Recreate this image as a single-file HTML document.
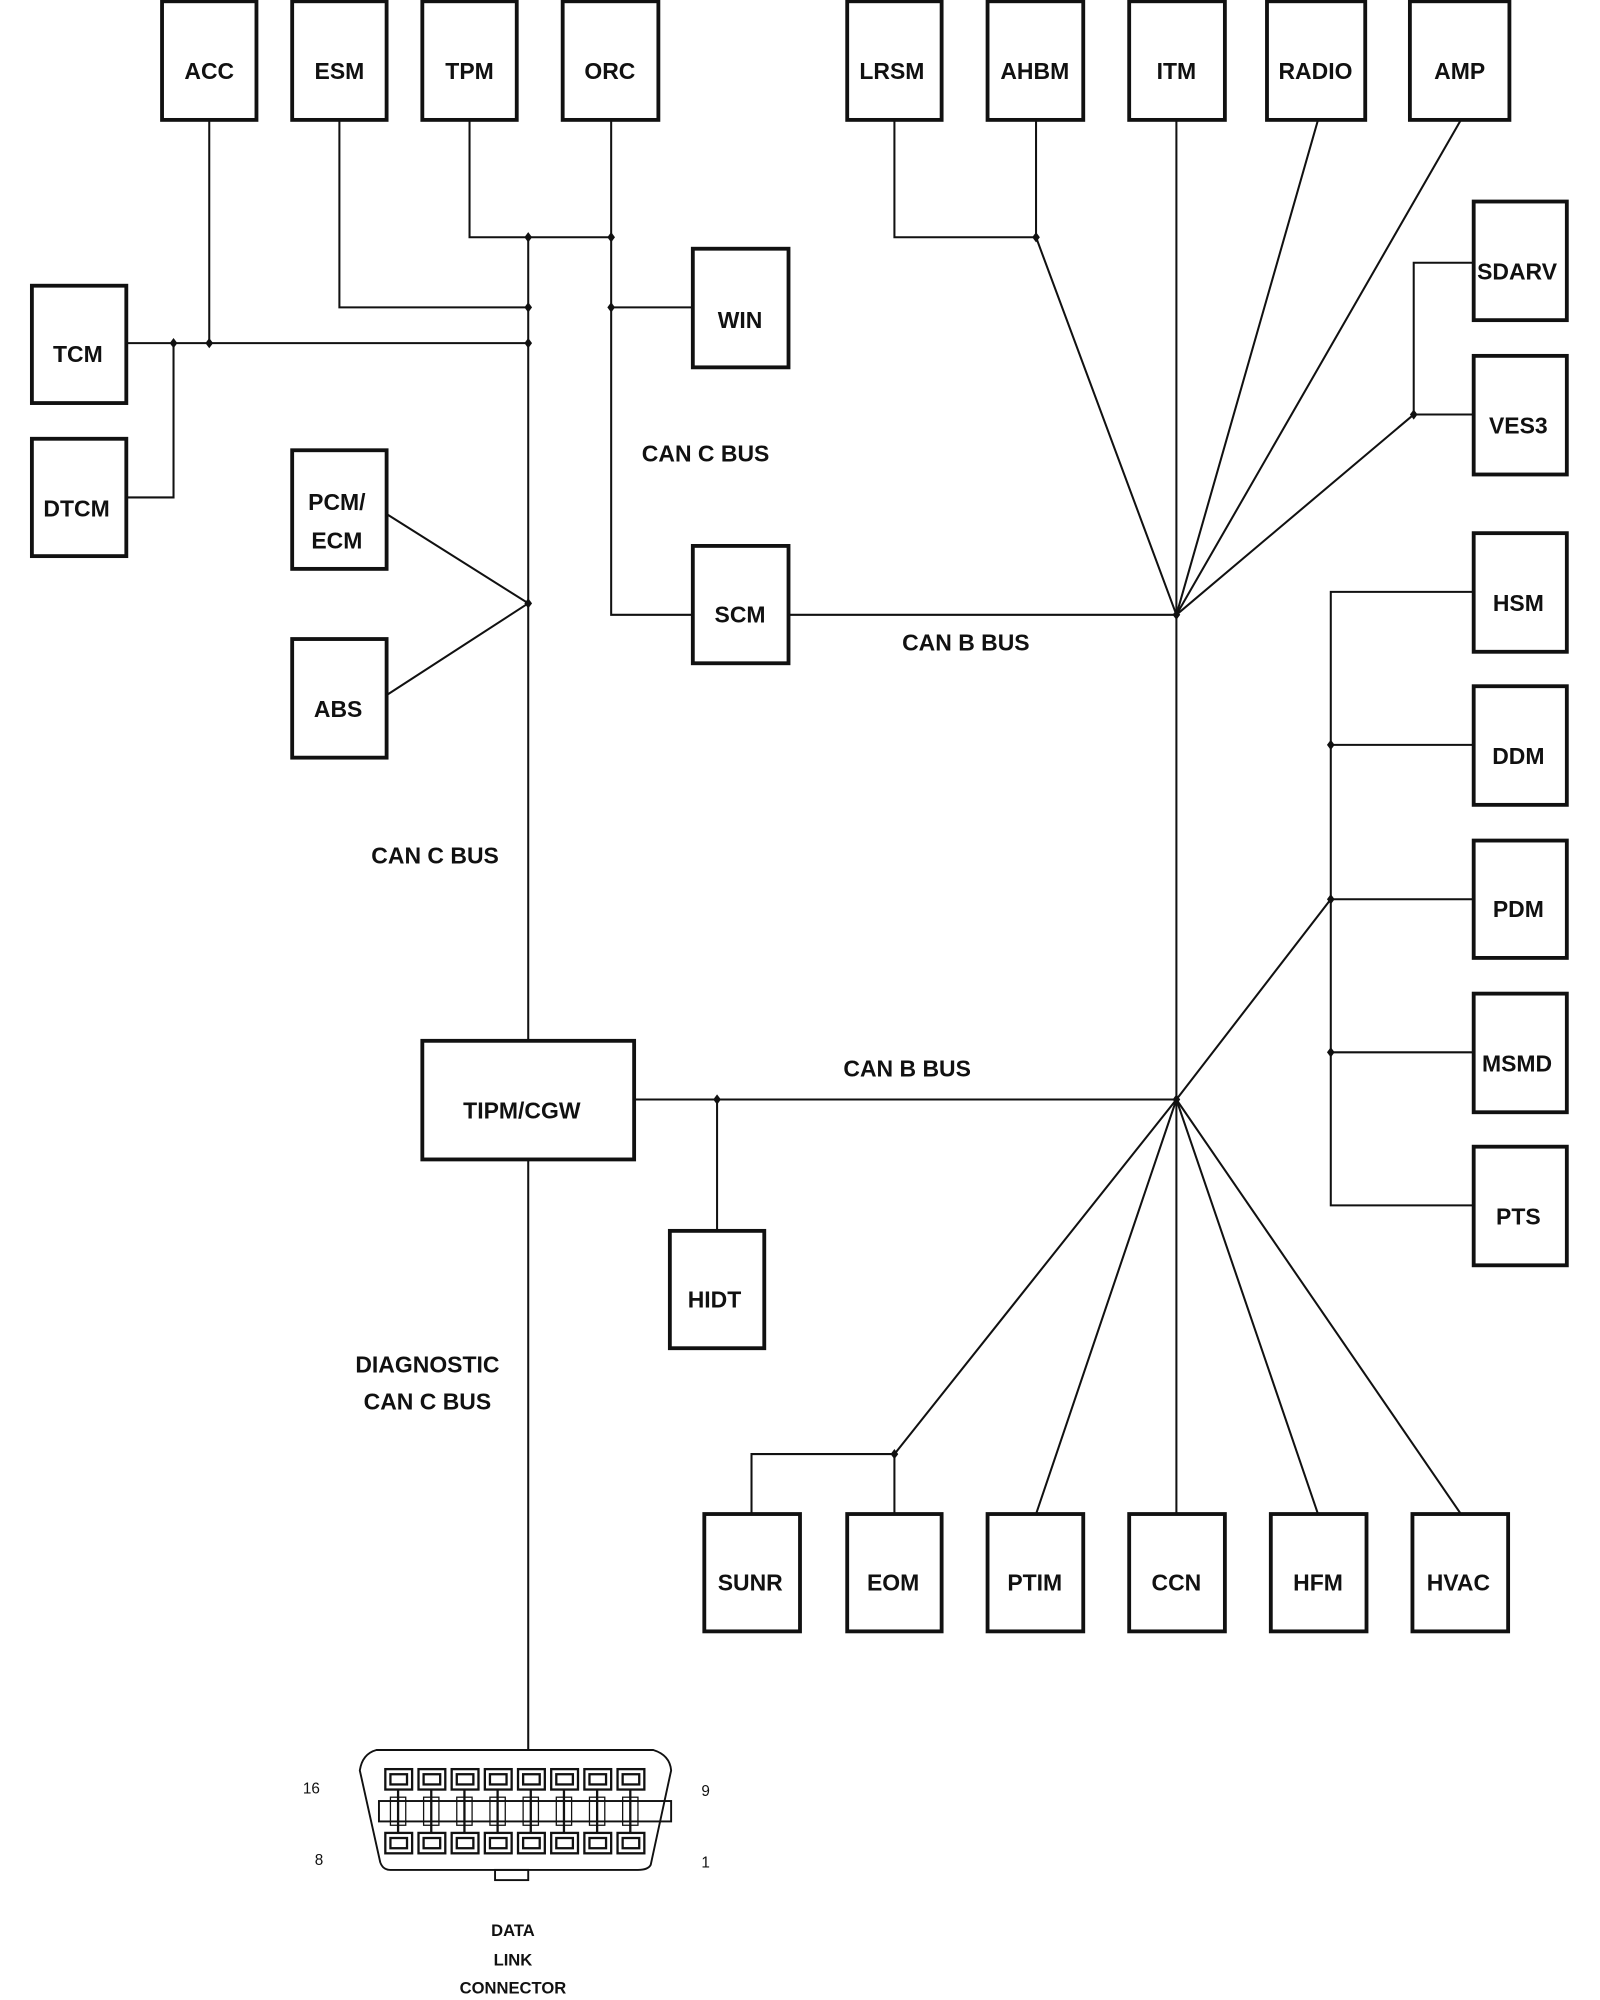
<!DOCTYPE html>
<html><head><meta charset="utf-8"><style>
html,body{margin:0;padding:0;background:#fff;width:1600px;height:2000px;overflow:hidden}
svg{display:block}
text{font-family:"Liberation Sans",Arial,sans-serif;font-weight:bold;fill:#111;text-anchor:middle}
</style></head><body>
<svg width="1600" height="2000" viewBox="0 0 1254 1568" preserveAspectRatio="none" xmlns="http://www.w3.org/2000/svg">
<g fill="none" stroke="#111" stroke-width="1.6">
<polyline points="164,94 164,269"/>
<polyline points="99,269 414,269"/>
<polyline points="99,390 136,390 136,269"/>
<polyline points="266,94 266,241 414,241"/>
<polyline points="368,94 368,186 479,186"/>
<polyline points="479,94 479,482 543,482"/>
<polyline points="479,241 543,241"/>
<polyline points="414,186 414,816"/>
<polyline points="303,403 414,473 303,545"/>
<polyline points="414,909 414,1372"/>
<polyline points="618,482 922,482"/>
<polyline points="922,94 922,1187"/>
<polyline points="701,94 701,186 812,186"/>
<polyline points="812,94 812,186 922,482"/>
<polyline points="1033,94 922,482"/>
<polyline points="1145,94 922,482"/>
<polyline points="1155,206 1108,206 1108,325 1155,325"/>
<polyline points="1108,325 922,482"/>
<polyline points="497,862 922,862"/>
<polyline points="562,862 562,965"/>
<polyline points="1155,464 1043,464 1043,945 1155,945"/>
<polyline points="1043,584 1155,584"/>
<polyline points="1043,705 1155,705"/>
<polyline points="1043,825 1155,825"/>
<polyline points="1043,705 922,862"/>
<polyline points="922,862 701,1140"/>
<polyline points="589,1187 589,1140 701,1140 701,1187"/>
<polyline points="922,862 812,1187"/>
<polyline points="922,862 1033,1187"/>
<polyline points="922,862 1145,1187"/>
</g>
<path fill="#111" d="M136 265l3 4-3 4-3-4z M164 265l3 4-3 4-3-4z M414 265l3 4-3 4-3-4z M414 237l3 4-3 4-3-4z M414 182l3 4-3 4-3-4z M479 182l3 4-3 4-3-4z M479 237l3 4-3 4-3-4z M414 469l3 4-3 4-3-4z M812 182l3 4-3 4-3-4z M922 478l3 4-3 4-3-4z M1108 321l3 4-3 4-3-4z M562 858l3 4-3 4-3-4z M922 858l3 4-3 4-3-4z M1043 580l3 4-3 4-3-4z M1043 701l3 4-3 4-3-4z M1043 821l3 4-3 4-3-4z M701 1136l3 4-3 4-3-4z"/>
<g fill="#fff" stroke="#111" stroke-width="3">
<rect x="127" y="1" width="74" height="93"/>
<rect x="229" y="1" width="74" height="93"/>
<rect x="331" y="1" width="74" height="93"/>
<rect x="441" y="1" width="75" height="93"/>
<rect x="664" y="1" width="74" height="93"/>
<rect x="774" y="1" width="75" height="93"/>
<rect x="885" y="1" width="75" height="93"/>
<rect x="993" y="1" width="77" height="93"/>
<rect x="1105" y="1" width="78" height="93"/>
<rect x="1155" y="158" width="73" height="93"/>
<rect x="1155" y="279" width="73" height="93"/>
<rect x="25" y="224" width="74" height="92"/>
<rect x="25" y="344" width="74" height="92"/>
<rect x="229" y="353" width="74" height="93"/>
<rect x="229" y="501" width="74" height="93"/>
<rect x="543" y="195" width="75" height="93"/>
<rect x="543" y="428" width="75" height="92"/>
<rect x="1155" y="418" width="73" height="93"/>
<rect x="1155" y="538" width="73" height="93"/>
<rect x="1155" y="659" width="73" height="92"/>
<rect x="1155" y="779" width="73" height="93"/>
<rect x="1155" y="899" width="73" height="93"/>
<rect x="331" y="816" width="166" height="93"/>
<rect x="525" y="965" width="74" height="92"/>
<rect x="552" y="1187" width="75" height="92"/>
<rect x="664" y="1187" width="74" height="92"/>
<rect x="774" y="1187" width="75" height="92"/>
<rect x="885" y="1187" width="75" height="92"/>
<rect x="996" y="1187" width="75" height="92"/>
<rect x="1107" y="1187" width="75" height="92"/>
</g>
<g font-size="18">
<text x="164" y="62">ACC</text>
<text x="266" y="62">ESM</text>
<text x="368" y="62">TPM</text>
<text x="478" y="62">ORC</text>
<text x="699" y="62">LRSM</text>
<text x="811" y="62">AHBM</text>
<text x="922" y="62">ITM</text>
<text x="1031" y="62">RADIO</text>
<text x="1144" y="62">AMP</text>
<text x="1189" y="219">SDARV</text>
<text x="1190" y="340">VES3</text>
<text x="61" y="284">TCM</text>
<text x="60" y="405">DTCM</text>
<text x="264" y="400">PCM/</text>
<text x="264" y="430">ECM</text>
<text x="265" y="562">ABS</text>
<text x="580" y="257">WIN</text>
<text x="580" y="488">SCM</text>
<text x="1190" y="479">HSM</text>
<text x="1190" y="599">DDM</text>
<text x="1190" y="719">PDM</text>
<text x="1189" y="840">MSMD</text>
<text x="1190" y="960">PTS</text>
<text x="409" y="877">TIPM/CGW</text>
<text x="560" y="1025">HIDT</text>
<text x="588" y="1247">SUNR</text>
<text x="700" y="1247">EOM</text>
<text x="811" y="1247">PTIM</text>
<text x="922" y="1247">CCN</text>
<text x="1033" y="1247">HFM</text>
<text x="1143" y="1247">HVAC</text>
<text x="553" y="362">CAN C BUS</text>
<text x="757" y="510">CAN B BUS</text>
<text x="341" y="677">CAN C BUS</text>
<text x="711" y="844">CAN B BUS</text>
<text x="335" y="1076">DIAGNOSTIC</text>
<text x="335" y="1105">CAN C BUS</text>
</g>
<g fill="none" stroke="#111" stroke-width="1.5">
<path d="M295,1372 L512,1372 Q525,1376 526,1388 L510,1462 Q508,1466 500,1466 L306,1466 Q300,1466 298,1460 L282,1388 Q284,1375 295,1372 Z"/>
<rect x="388" y="1466" width="26" height="8"/>
<rect x="297" y="1412" width="229" height="16"/>
</g>
<g fill="none" stroke="#111" stroke-width="1.8">
<g id="pins">
<rect x="302" y="1387" width="21" height="16"/><rect x="306" y="1391" width="13" height="8"/>
<rect x="302" y="1437" width="21" height="16"/><rect x="306" y="1441" width="13" height="8"/>
<line x1="312" y1="1403" x2="312" y2="1437"/>
<rect x="306" y="1409" width="12" height="22" stroke-width="1"/>
</g>
<use href="#pins" x="26"/><use href="#pins" x="52"/><use href="#pins" x="78"/><use href="#pins" x="104"/><use href="#pins" x="130"/><use href="#pins" x="156"/><use href="#pins" x="182"/>
</g>
<g font-size="12">
<text x="244" y="1406" style="font-weight:normal">16</text>
<text x="553" y="1408" style="font-weight:normal">9</text>
<text x="250" y="1462" style="font-weight:normal">8</text>
<text x="553" y="1464" style="font-weight:normal">1</text>
</g>
<g font-size="13">
<text x="402" y="1518">DATA</text>
<text x="402" y="1541">LINK</text>
<text x="402" y="1563">CONNECTOR</text>
</g>
</svg>
</body></html>
